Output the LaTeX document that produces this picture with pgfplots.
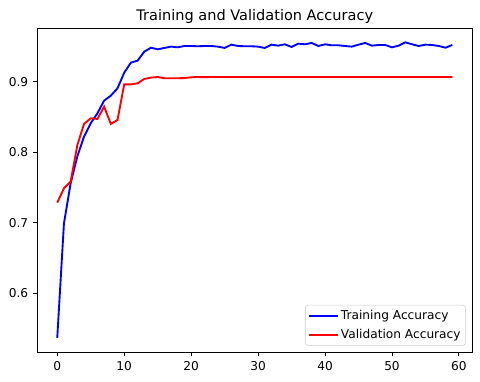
\documentclass[border=0pt]{standalone}
\usepackage{pgfplots}
\pgfplotsset{compat=1.18}
\usepackage{fontspec}
\setmainfont{DejaVu Sans}
\begin{document}
\begin{tikzpicture}
\useasboundingbox (-0.375in,-0.30in) rectangle (4.425in,3.52in);
\begin{axis}[
  at={(0,0)}, anchor=south west,
  scale only axis, width=4.345in, height=3.24in,
  xmin=-2.95, xmax=61.95, ymin=0.5169, ymax=0.9759,
  xtick={0,10,20,30,40,50,60},
  ytick={0.6,0.7,0.8,0.9},
  yticklabels={0.6,0.7,0.8,0.9},
  tick align=outside, tick pos=left,
  major tick length=3.2bp,
  every tick/.style={line width=0.7bp, black},
  axis line style={line width=0.7bp},
  /pgf/number format/assume math mode=true,
  tick label style={font=\fontsize{8.8}{10.5}\selectfont},
  title={Training and Validation Accuracy},
  title style={font=\fontsize{10.5}{12.6}\selectfont, at={(0.5,1)}, anchor=base, yshift=-0.005in},
  legend style={at={(1,0)}, anchor=south east, xshift=-0.063in, yshift=0.063in,
    draw=black!20, rounded corners=2bp, fill=white, fill opacity=0.8, text opacity=1,
    font=\fontsize{8.8}{10.5}\selectfont, inner sep=2bp, row sep=2.2bp,
    nodes={inner sep=1.5bp, text height=6.6bp, text depth=1.8bp}},
  legend cell align=left,
  legend image code/.code={\draw[#1] (-0.02in,0in) -- (0.27in,0in);},
]
\addplot[blue, line width=1.35bp] coordinates {
(0,0.537) (1,0.699) (2,0.756) (3,0.794) (4,0.822) (5,0.841) (6,0.855) (7,0.873)
(8,0.880) (9,0.8905) (10,0.9126) (11,0.9268) (12,0.9296) (13,0.9424) (14,0.948)
(15,0.9457) (16,0.9476) (17,0.9495) (18,0.9485) (19,0.9504) (20,0.9504) (21,0.9500)
(22,0.9504) (23,0.9504) (24,0.9495) (25,0.9476) (26,0.9523) (27,0.9504) (28,0.9500)
(29,0.9500) (30,0.9495) (31,0.9476) (32,0.9523) (33,0.9509) (34,0.9528) (35,0.9490)
(36,0.9537) (37,0.9528) (38,0.9547) (39,0.9504) (40,0.9528) (41,0.9514) (42,0.9514)
(43,0.9504) (44,0.9495) (45,0.9523) (46,0.9547) (47,0.9509) (48,0.9518) (49,0.9518)
(50,0.9485) (51,0.9509) (52,0.9556) (53,0.9528) (54,0.9504) (55,0.9523) (56,0.9518)
(57,0.9504) (58,0.9480) (59,0.9518)
};
\addlegendentry{Training Accuracy}
\addplot[red, line width=1.35bp] coordinates {
(0,0.7285) (1,0.7488) (2,0.7583) (3,0.810) (4,0.840) (5,0.848) (6,0.847) (7,0.8645)
(8,0.840) (9,0.8456) (10,0.896) (11,0.896) (12,0.8975) (13,0.9037) (14,0.9056)
(15,0.9065) (16,0.9047) (17,0.9047) (18,0.9047) (19,0.9050) (20,0.9060) (21,0.9065)
(22,0.9062) (23,0.9065) (24,0.9065) (25,0.9065) (26,0.9065) (27,0.9065) (28,0.9065)
(29,0.9065) (30,0.9065) (31,0.9065) (32,0.9065) (33,0.9065) (34,0.9065) (35,0.9065)
(36,0.9065) (37,0.9065) (38,0.9065) (39,0.9065) (40,0.9065) (41,0.9065) (42,0.9065)
(43,0.9065) (44,0.9065) (45,0.9065) (46,0.9065) (47,0.9065) (48,0.9065) (49,0.9065)
(50,0.9065) (51,0.9065) (52,0.9065) (53,0.9065) (54,0.9065) (55,0.9065) (56,0.9065)
(57,0.9065) (58,0.9065) (59,0.9065)
};
\addlegendentry{Validation Accuracy}
\end{axis}
\end{tikzpicture}
\end{document}
